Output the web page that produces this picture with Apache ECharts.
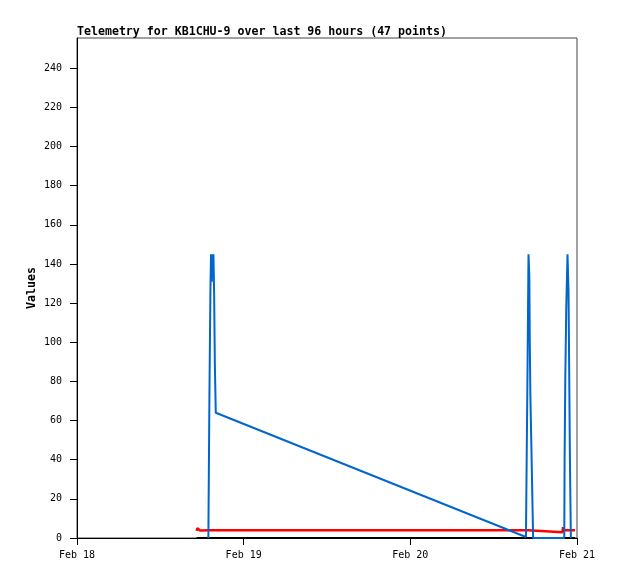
<!DOCTYPE html>
<html><head><meta charset="utf-8">
<script src="https://cdn.jsdelivr.net/npm/echarts@6/dist/echarts.min.js"></script>
<style>html,body{margin:0;padding:0;background:#fff}#c{width:618px;height:579px}</style>
</head><body><div id="c"></div>
<script>
// Blue series (times UTC, values)
const blueTimes = ["2024-02-18T18:55","2024-02-18T18:57","2024-02-18T19:04","2024-02-18T19:13","2024-02-18T19:18","2024-02-18T19:24","2024-02-18T19:29","2024-02-18T19:34","2024-02-18T19:39","2024-02-18T19:45","2024-02-18T19:51","2024-02-18T19:59",
  "2024-02-20T16:39","2024-02-20T16:50","2024-02-20T16:52","2024-02-20T17:01","2024-02-20T17:08","2024-02-20T17:12","2024-02-20T17:17","2024-02-20T17:27","2024-02-20T17:41",
  "2024-02-20T22:10","2024-02-20T22:13","2024-02-20T22:19","2024-02-20T22:27","2024-02-20T22:38","2024-02-20T22:47","2024-02-20T22:53","2024-02-20T22:59","2024-02-20T23:07"];
const blueValues = [0,16,72,128,145,131,145,133,145,124,89,64,
  0.5,0,83,145,134,101,73,43,0,
  0,41,82,117,145,125,82,39,0];
// Red series
const redTimes = ["2024-02-18T17:13","2024-02-18T17:21","2024-02-18T17:34","2024-02-18T17:43","2024-02-18T19:00","2024-02-20T16:57","2024-02-20T17:00","2024-02-20T21:55","2024-02-20T21:59","2024-02-20T22:04","2024-02-20T23:43"];
const redValues = [3.6,5.0,4.6,3.8,3.9,3.9,2.9,2.9,5.5,4.0,4.0];
// Black series
const blackTimes = ["2024-02-18T17:13","2024-02-20T23:43"];
const blackValues = [0,0];
// Axis ticks
const xTickDates = ["2024-02-18T00:00","2024-02-19T00:00","2024-02-20T00:00","2024-02-21T00:00"];
const xTickLabels = ["Feb 18","Feb 19","Feb 20","Feb 21"];
const yTicks = [0,20,40,60,80,100,120,140,160,180,200,220,240];
const yMax = 255.5;

const t = s => Date.parse(s + ":00Z");
const pairs = (ts, vs) => ts.map((s, i) => [t(s), vs[i]]);
const xTickVals = xTickDates.map(t);

const mono = "DejaVu Sans Mono";
const chart = echarts.init(document.getElementById('c'), null, {renderer: 'canvas'});
chart.setOption({
  animation: false,
  backgroundColor: '#fff',
  title: {
    text: 'Telemetry for KB1CHU-9 over last 96 hours (47 points)',
    left: 77, top: 26, padding: 0,
    textStyle: {fontFamily: mono, fontSize: 11.6, fontWeight: 'bold', color: '#000'}
  },
  grid: {left: 77, right: 41, top: 38, bottom: 41, show: true, borderColor: '#444', borderWidth: 1, backgroundColor: 'transparent'},
  xAxis: {
    type: 'value', min: xTickVals[0], max: xTickVals[xTickVals.length - 1],
    axisLine: {show: true, lineStyle: {color: '#000', width: 1}},
    axisTick: {show: true, length: 7, lineStyle: {color: '#000'}, customValues: xTickVals},
    axisLabel: {
      customValues: xTickVals, margin: 12, color: '#000', fontFamily: mono, fontSize: 10,
      formatter: v => xTickLabels[xTickVals.indexOf(v)] || ''
    },
    splitLine: {show: false}
  },
  yAxis: {
    type: 'value', min: 0, max: yMax,
    name: 'Values', nameLocation: 'middle', nameGap: 39, nameRotate: 90, nameMoveOverlap: false,
    nameTextStyle: {fontFamily: mono, fontSize: 11.6, fontWeight: 'bold', color: '#000'},
    axisLine: {show: true, lineStyle: {color: '#000', width: 1}},
    axisTick: {show: true, length: 7, lineStyle: {color: '#000'}, customValues: yTicks},
    axisLabel: {customValues: yTicks, margin: 15, color: '#000', fontFamily: mono, fontSize: 10},
    splitLine: {show: false}
  },
  series: [
    {type: 'line', data: pairs(blackTimes, blackValues), showSymbol: false, lineStyle: {color: '#000', width: 2}},
    {type: 'line', data: pairs(redTimes, redValues), showSymbol: false, lineStyle: {color: '#ff0000', width: 2.5}},
    {type: 'line', data: pairs(blueTimes, blueValues), showSymbol: false, lineStyle: {color: '#0066cc', width: 2}}
  ]
});
</script></body></html>
